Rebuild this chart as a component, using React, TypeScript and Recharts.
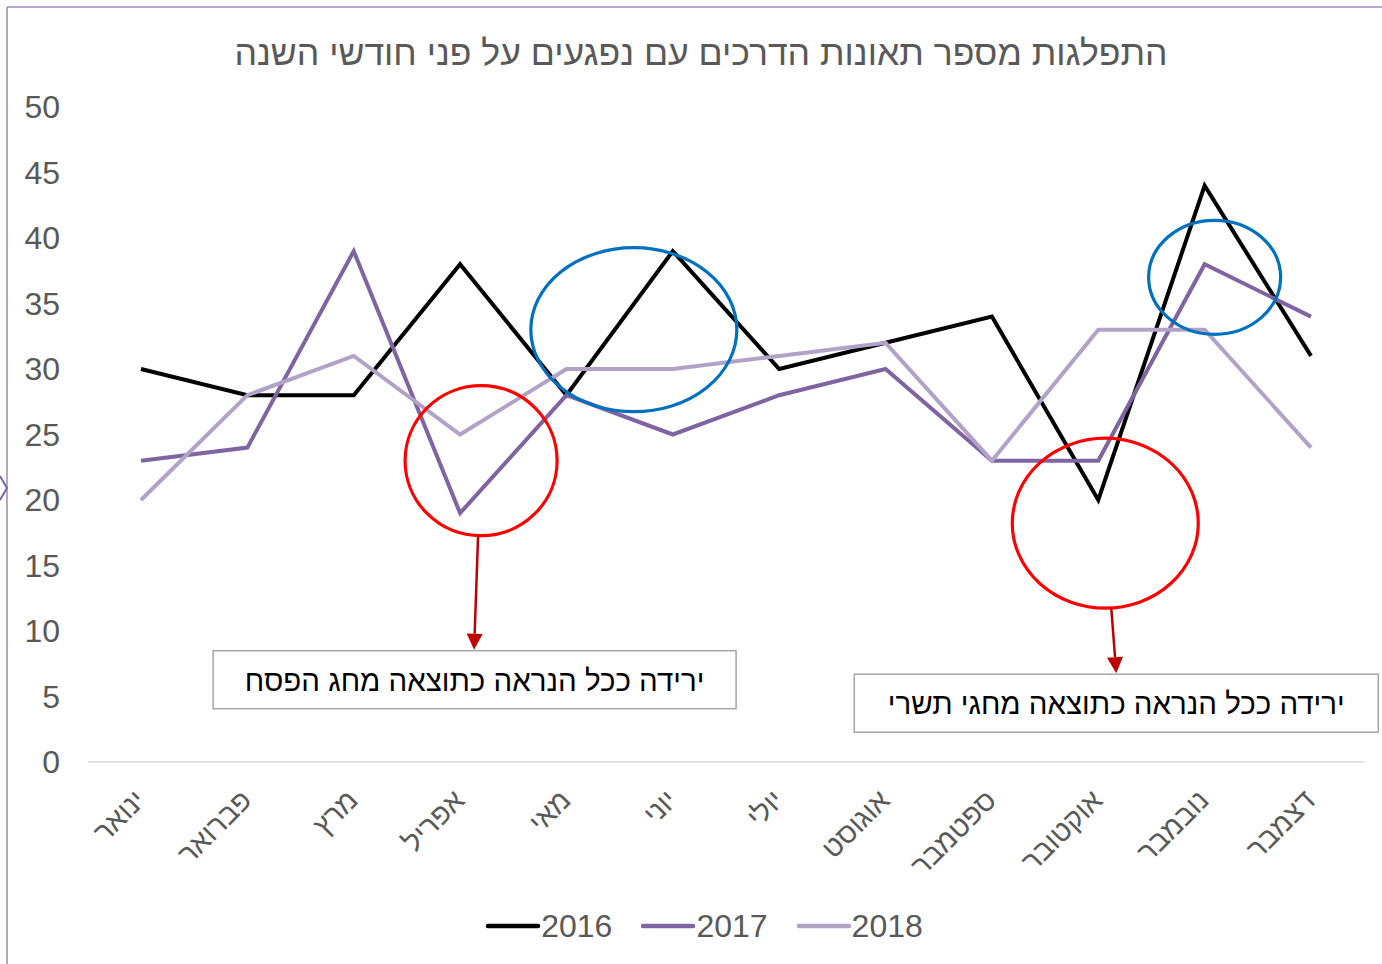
import React from "react";
import { LineChart, Line, XAxis, YAxis, ReferenceDot, Legend } from "recharts";

const months = ["ינואר", "פברואר", "מרץ", "אפריל", "מאי", "יוני", "יולי", "אוגוסט", "ספטמבר", "אוקטובר", "נובמבר", "דצמבר"];
const s2016 = [30, 28, 28, 38, 28, 39, 30, 32, 34, 20, 44, 31];
const s2017 = [23, 24, 39, 19, 28, 25, 28, 30, 23, 23, 38, 34];
const s2018 = [20, 28, 31, 25, 30, 30, 31, 32, 23, 33, 33, 24];
const yTicks = [0, 5, 10, 15, 20, 25, 30, 35, 40, 45, 50];
const seriesNames = ["2016", "2017", "2018"];
const seriesColors = ["#000000", "#8064A2", "#B3A2C7"];
const title = "התפלגות מספר תאונות הדרכים עם נפגעים על פני חודשי השנה";
const note1 = "ירידה ככל הנראה כתוצאה מחג הפסח";
const note2 = "ירידה ככל הנראה כתוצאה מחגי תשרי";

const data = months.map((m, i) => ({ month: m, "2016": s2016[i], "2017": s2017[i], "2018": s2018[i] }));

const FONT = "'Liberation Sans', Arial, sans-serif";
const GRAY = "#595959";

const XTick = (props: any) => {
  const { x, y, payload } = props;
  const x0 = x + 6;
  const y0 = y + 32;
  return (
    <text x={x0} y={y0} transform={`rotate(-45, ${x0}, ${y0})`} textAnchor="end" fill={GRAY} fontSize={28.5} fontFamily={FONT}>
      {payload.value}
    </text>
  );
};

const Arrow = ({ x1, y1, x2, y2 }: any) => {
  const ang = Math.atan2(y2 - y1, x2 - x1);
  const len = 16;
  const half = 8;
  const bx = x2 - len * Math.cos(ang);
  const by = y2 - len * Math.sin(ang);
  const px = -Math.sin(ang) * half;
  const py = Math.cos(ang) * half;
  return (
    <g>
      <line x1={x1} y1={y1} x2={bx} y2={by} stroke="#C00000" strokeWidth={2.5} />
      <polygon points={`${x2},${y2} ${bx + px},${by + py} ${bx - px},${by - py}`} fill="#C00000" />
    </g>
  );
};

const NoteBox = ({ cx, cy, w, h, text }: any) => (
  <g>
    <rect x={cx - w / 2} y={cy - h / 2} width={w} height={h} fill="#FFFFFF" stroke="#A6A6A6" strokeWidth={1.5} />
    <text x={cx} y={cy + 11} textAnchor="middle" fill="#000000" fontSize={29.5} fontFamily={FONT}>
      {text}
    </text>
  </g>
);

const annot1 = (p: any) => {
  const { cx, cy } = p;
  return (
    <g>
      <ellipse cx={cx + 21} cy={cy} rx={76} ry={75} fill="none" stroke="#FF0000" strokeWidth={3.2} />
      <Arrow x1={cx + 18} y1={cy + 75} x2={cx + 14} y2={cy + 189} />
      <NoteBox cx={cx + 14.5} cy={cy + 219} w={523} h={58} text={note1} />
    </g>
  );
};

const annot2 = (p: any) => {
  const { cx, cy } = p;
  return <ellipse cx={cx - 39} cy={cy} rx={103} ry={82} fill="none" stroke="#0070C0" strokeWidth={3.2} />;
};

const annot3 = (p: any) => {
  const { cx, cy } = p;
  return (
    <g>
      <ellipse cx={cx + 7} cy={cy - 3} rx={93} ry={85} fill="none" stroke="#FF0000" strokeWidth={3.2} />
      <Arrow x1={cx + 13} y1={cy + 82} x2={cx + 18} y2={cy + 147} />
      <NoteBox cx={cx + 18} cy={cy + 177} w={524} h={58} text={note2} />
    </g>
  );
};

const annot4 = (p: any) => {
  const { cx, cy } = p;
  return <ellipse cx={cx + 10} cy={cy} rx={66} ry={57} fill="none" stroke="#0070C0" strokeWidth={3.2} />;
};

const LegendContent = () => (
  <div style={{ display: "flex", justifyContent: "center", alignItems: "center", fontFamily: FONT }}>
    {seriesNames.map((n, i) => (
      <div key={n} style={{ display: "flex", alignItems: "center", marginLeft: i === 0 ? 0 : 28 }}>
        <svg width={56} height={10} style={{ display: "block" }}>
          <line x1={3} y1={5} x2={53} y2={5} stroke={seriesColors[i]} strokeWidth={4.5} strokeLinecap="round" />
        </svg>
        <span style={{ fontSize: 32, color: GRAY, lineHeight: "36px" }}>{n}</span>
      </div>
    ))}
  </div>
);

export default function App() {
  return (
    <div style={{ position: "absolute", left: 0, top: 0, width: 1382, height: 964, background: "#FFFFFF", overflow: "hidden" }}>
      <svg width={1382} height={964} style={{ position: "absolute", left: 0, top: 0 }}>
        <line x1={7} y1={7} x2={1382} y2={7} stroke="#B4A7C9" strokeWidth={2} />
        <line x1={7} y1={7} x2={7} y2={964} stroke="#B4A7C9" strokeWidth={2} />
        <polyline points="0,476 7,488 0,500" fill="none" stroke="#8064A2" strokeWidth={2} />
      </svg>
      <div
        style={{
          position: "absolute",
          left: 0,
          top: 32,
          width: 1402,
          textAlign: "center",
          fontFamily: FONT,
          fontSize: 35.6,
          color: GRAY,
          lineHeight: "42px",
        }}
      >
        {title}
      </div>
      <div style={{ position: "absolute", left: 0, top: 0 }}>
        <LineChart width={1382} height={964} data={data} margin={{ top: 107, right: 18, bottom: 36, left: 0 }}>
          <XAxis
            dataKey="month"
            tick={<XTick />}
            tickLine={false}
            axisLine={{ stroke: "#D9D9D9", strokeWidth: 1.5 }}
            interval={0}
            height={130}
            padding={{ left: 53, right: 53 }}
          />
          <YAxis
            domain={[0, 50]}
            ticks={yTicks}
            width={88}
            axisLine={false}
            tickLine={false}
            tickSize={0}
            tickMargin={28}
            tick={{ fill: GRAY, fontSize: 32, fontFamily: FONT }}
            interval={0}
          />
          {seriesNames.map((n, i) => (
            <Line
              key={n}
              type="linear"
              dataKey={n}
              stroke={seriesColors[i]}
              strokeWidth={4}
              dot={false}
              activeDot={false}
              isAnimationActive={false}
            />
          ))}
          <ReferenceDot x="אפריל" y={23} shape={annot1} ifOverflow="visible" />
          <ReferenceDot x="יוני" y={33} shape={annot2} ifOverflow="visible" />
          <ReferenceDot x="אוקטובר" y={18} shape={annot3} ifOverflow="visible" />
          <ReferenceDot x="נובמבר" y={37} shape={annot4} ifOverflow="visible" />
          <Legend content={<LegendContent />} wrapperStyle={{ position: "absolute", left: 0, top: 908, width: 1408 }} />
        </LineChart>
      </div>
    </div>
  );
}
